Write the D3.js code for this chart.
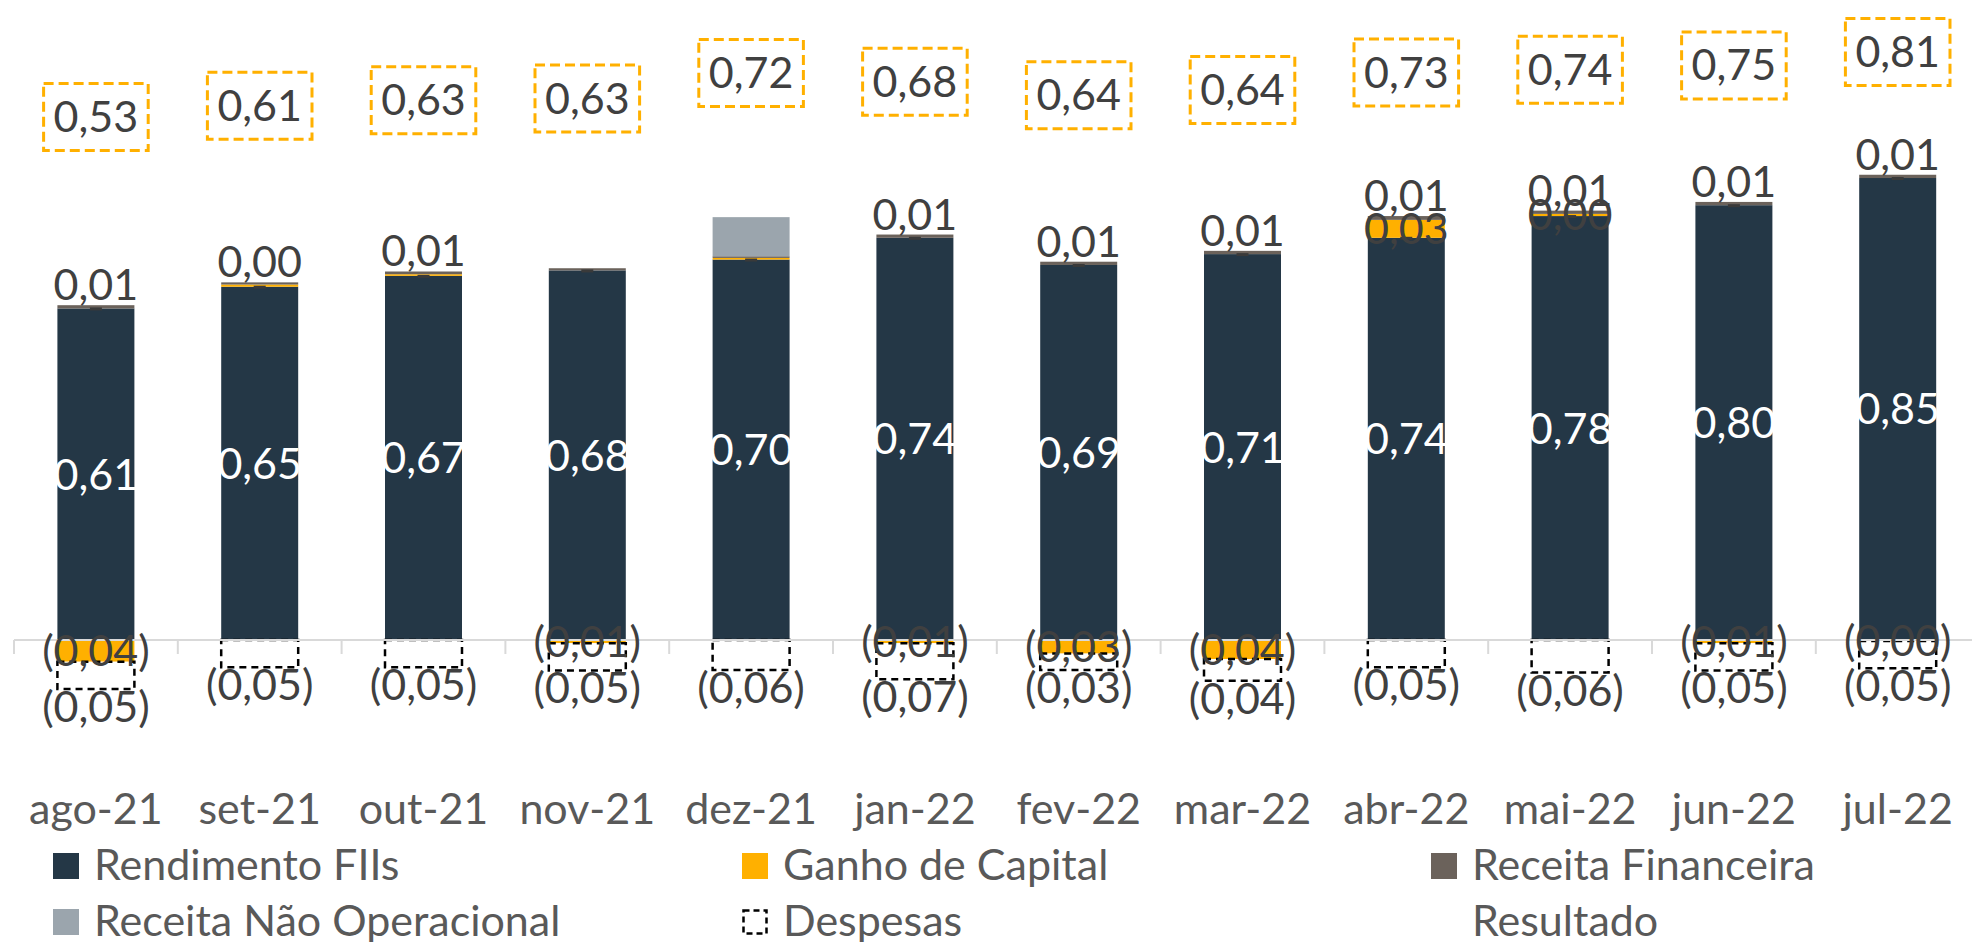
<html>
<head>
<meta charset="utf-8">
<style>
  body { margin: 0; background: #fff; }
  text { font-family: Lato, "Open Sans", sans-serif; }
</style>
</head>
<body>
<script src="https://cdn.jsdelivr.net/npm/d3@7/dist/d3.min.js"></script>
<script>
var months = ["ago-21","set-21","out-21","nov-21","dez-21","jan-22","fev-22","mar-22","abr-22","mai-22","jun-22","jul-22"];
var rendimento = [0.61, 0.65, 0.67, 0.68, 0.70, 0.74, 0.69, 0.71, 0.74, 0.78, 0.80, 0.85];
var ganho      = [-0.04, 0.004, 0.003, -0.006, 0.003, -0.006, -0.025, -0.035, 0.033, 0.004, -0.006, -0.002];
var financeira = [0.006, 0.004, 0.005, 0.004, 0.003, 0.006, 0.006, 0.006, 0.007, 0.006, 0.006, 0.006];
var naoOper    = [0, 0, 0, 0, 0.072, 0, 0, 0, 0, 0, 0, 0];
var despesas   = [-0.05, -0.05, -0.05, -0.05, -0.055, -0.066, -0.03, -0.04, -0.05, -0.06, -0.05, -0.05];
var resultado  = [0.53, 0.61, 0.63, 0.63, 0.72, 0.68, 0.64, 0.64, 0.73, 0.74, 0.75, 0.81];
// quais rótulos aparecem no original
var ganhoLabel = [1, 0, 0, 1, 0, 1, 1, 1, 1, 1, 1, 1];
var finLabel   = [1, 1, 1, 0, 0, 1, 1, 1, 1, 1, 1, 1];

var width = 1972, height = 942;
var yMax = 1.31; // topo da área de plotagem (fora do recorte)

var svg = d3.select("body").append("svg")
  .attr("width", width)
  .attr("height", height);

var x = d3.scaleBand().domain(months).range([14, 14 + 12 * 163.8])
  .paddingInner(0.53).paddingOuter(0.265);
var y = d3.scaleLinear().domain([0, yMax]).range([640, -72]);

var keys = ["rendimento", "ganho", "financeira", "naoOper", "despesas"];
var colors = { rendimento: "#243746", ganho: "#FFB000", financeira: "#6B625B", naoOper: "#9BA5AD", despesas: "#ffffff" };

var rows = months.map(function(m, i) {
  return { mes: m, rendimento: rendimento[i], ganho: ganho[i], financeira: financeira[i],
           naoOper: naoOper[i], despesas: despesas[i], resultado: resultado[i], i: i };
});
var series = d3.stack().keys(keys).offset(d3.stackOffsetDiverging)(rows);

// topo da pilha positiva de cada mês
rows.forEach(function(r) {
  r.posTop = d3.sum(keys, function(k) { return Math.max(0, r[k]); });
});

function fmt(v) {
  var s = d3.format(".2f")(Math.abs(v)).replace(".", ",");
  return v < 0 ? "(" + s + ")" : s;
}

// barras
series.forEach(function(s) {
  var g = svg.append("g");
  g.selectAll("rect").data(s).enter().append("rect")
    .attr("x", function(d) { return x(d.data.mes); })
    .attr("width", x.bandwidth())
    .attr("y", function(d) { return y(Math.max(d[0], d[1])); })
    .attr("height", function(d) { return Math.abs(y(d[0]) - y(d[1])); })
    .attr("fill", colors[s.key])
    .attr("stroke", s.key == "despesas" ? "#000" : "none")
    .attr("stroke-width", 2.5)
    .attr("stroke-dasharray", s.key == "despesas" ? "7,5" : null);
});

// pequenas marcas no topo do rendimento
svg.append("g").selectAll("rect").data(rows).enter().append("rect")
  .attr("x", function(d) { return x(d.mes) + x.bandwidth() / 2 - 6; })
  .attr("y", function(d) { return y(d.rendimento) - 1; })
  .attr("width", 12).attr("height", 3)
  .attr("fill", "#3a3a3a");

// eixo
svg.append("line")
  .attr("x1", 14).attr("x2", width).attr("y1", y(0)).attr("y2", y(0))
  .attr("stroke", "#d9d9d9").attr("stroke-width", 2);
var tickX = months.map(function(m) { return x(m) - x.step() * x.paddingInner() / 2; });
svg.append("g").selectAll("line").data(tickX).enter().append("line")
  .attr("x1", function(d) { return d; }).attr("x2", function(d) { return d; })
  .attr("y1", y(0)).attr("y2", y(0) + 14)
  .attr("stroke", "#d9d9d9").attr("stroke-width", 2);

svg.append("g").selectAll("text").data(months).enter().append("text")
  .attr("x", function(d) { return x(d) + x.bandwidth() / 2; })
  .attr("y", 824)
  .attr("text-anchor", "middle")
  .attr("fill", "#595959")
  .style("font-size", "43px")
  .text(function(d) { return d; });

var fs = "43px";
var cx = function(d) { return x(d.data.mes) + x.bandwidth() / 2; };

// rótulos do rendimento
svg.append("g").selectAll("text").data(series[0]).enter().append("text")
  .attr("x", cx)
  .attr("y", function(d) { return y((d[0] + d[1]) / 2); })
  .attr("dy", "0.36em")
  .attr("text-anchor", "middle").attr("fill", "#fff").style("font-size", fs)
  .text(function(d) { return fmt(d.data.rendimento); });

// rótulos ganho de capital
svg.append("g").selectAll("text")
  .data(series[1].filter(function(d) { return ganhoLabel[d.data.i]; })).enter().append("text")
  .attr("x", cx)
  .attr("y", function(d) { return y((d[0] + d[1]) / 2); })
  .attr("dy", "0.36em")
  .attr("text-anchor", "middle").attr("fill", "#404040").style("font-size", fs)
  .text(function(d) { return fmt(d.data.ganho); });

// rótulos receita financeira
svg.append("g").selectAll("text")
  .data(series[2].filter(function(d) { return finLabel[d.data.i]; })).enter().append("text")
  .attr("x", cx)
  .attr("y", function(d) { return y(d[1]) - 5; })
  .attr("text-anchor", "middle").attr("fill", "#404040").style("font-size", fs)
  .text(function(d) { return fmt(d.data.financeira); });

// rótulos despesas
svg.append("g").selectAll("text").data(series[4]).enter().append("text")
  .attr("x", cx)
  .attr("y", function(d) { return y(Math.min(d[0], d[1])) + 33; })
  .attr("text-anchor", "middle").attr("fill", "#404040").style("font-size", fs)
  .text(function(d) { return fmt(d.data.despesas); });

// resultado: barra invisível empilhada no topo, rótulo no centro da parte visível
var res = svg.append("g").selectAll("g").data(rows).enter().append("g")
  .attr("transform", function(d) {
    return "translate(" + (x(d.mes) + x.bandwidth() / 2) + "," + y((d.posTop + yMax) / 2) + ")";
  });
res.append("text")
  .attr("text-anchor", "middle").attr("dy", "0.36em")
  .attr("fill", "#404040").style("font-size", fs)
  .text(function(d) { return fmt(d.resultado); });
res.each(function() {
  var g = d3.select(this);
  var bb = g.select("text").node().getBBox();
  g.insert("rect", "text")
    .attr("x", -bb.width / 2 - 10).attr("width", bb.width + 20)
    .attr("y", -33).attr("height", 67)
    .attr("fill", "none").attr("stroke", "#FFB000")
    .attr("stroke-width", 3).attr("stroke-dasharray", "10,5");
});

// legenda
var legend = [
  { nome: "Rendimento FIIs", cor: colors.rendimento, col: 0, row: 0 },
  { nome: "Ganho de Capital", cor: colors.ganho, col: 1, row: 0 },
  { nome: "Receita Financeira", cor: colors.financeira, col: 2, row: 0 },
  { nome: "Receita Não Operacional", cor: colors.naoOper, col: 0, row: 1 },
  { nome: "Despesas", cor: "dash", col: 1, row: 1 },
  { nome: "Resultado", cor: null, col: 2, row: 1 }
];
var lg = svg.append("g").selectAll("g").data(legend).enter().append("g")
  .attr("transform", function(d) { return "translate(" + (53 + d.col * 689) + "," + (853 + d.row * 56) + ")"; });
lg.filter(function(d) { return d.cor && d.cor != "dash"; }).append("rect")
  .attr("width", 26).attr("height", 26).attr("fill", function(d) { return d.cor; });
lg.filter(function(d) { return d.cor == "dash"; }).append("rect")
  .attr("x", 1.5).attr("y", 1.5).attr("width", 23).attr("height", 23)
  .attr("fill", "none").attr("stroke", "#000").attr("stroke-width", 2.5)
  .attr("stroke-dasharray", "6,4");
lg.append("text")
  .attr("x", 41).attr("y", 27)
  .attr("fill", "#595959").style("font-size", "43px")
  .text(function(d) { return d.nome; });
</script>
</body>
</html>
